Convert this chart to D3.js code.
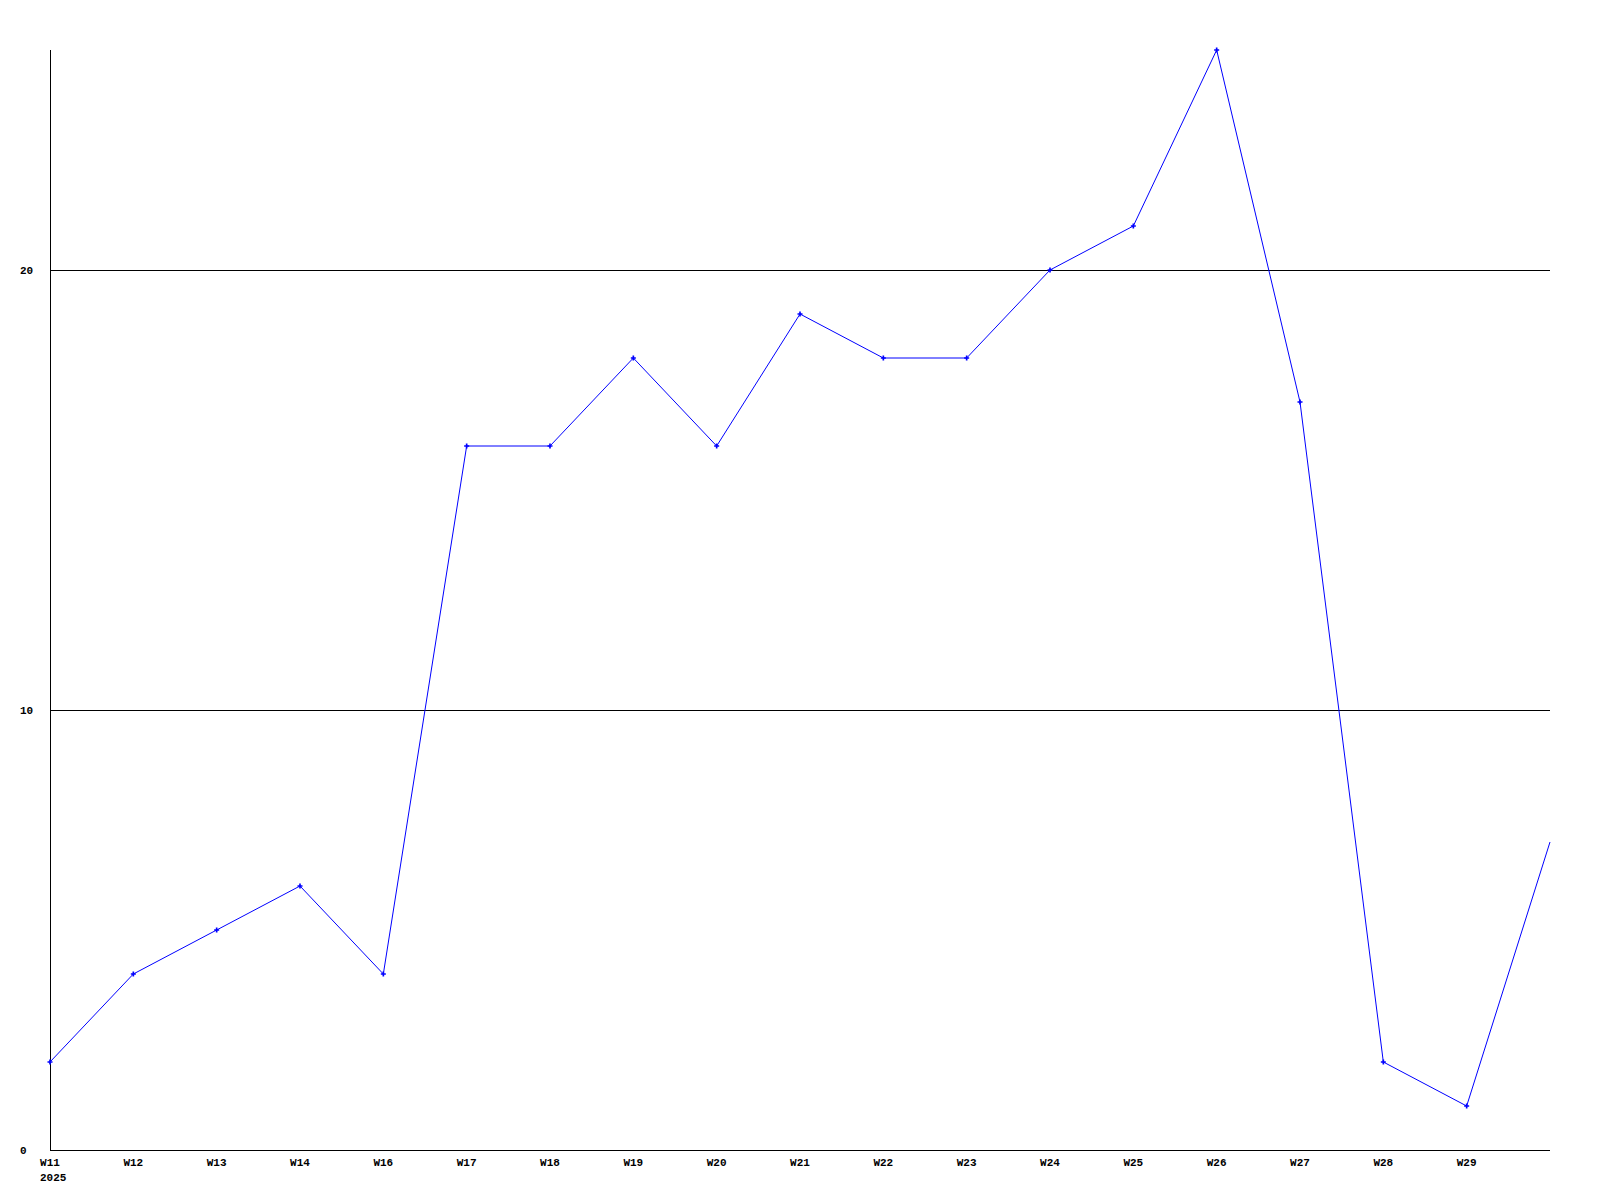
<!DOCTYPE html>
<html><head><meta charset="utf-8">
<script src="https://cdn.jsdelivr.net/npm/d3@7"></script>
<style>
html,body{margin:0;padding:0;background:#fff;}
svg{display:block;}
text{font-family:"Liberation Mono","DejaVu Sans Mono",monospace;font-weight:bold;font-size:11px;fill:#000;}
</style></head>
<body>
<svg id="chart" width="1600" height="1200"></svg>
<script>
const weeks = ["W11","W12","W13","W14","W16","W17","W18","W19","W20","W21","W22","W23","W24","W25","W26","W27","W28","W29",""];
const values = [2,4,5,6,4,16,16,18,16,19,18,18,20,21,25,17,2,1,7];
const yTicks = [0,10,20];
const yearLabel = "2025";

const svg = d3.select("#chart");
const mLeft = 50, mRight = 1550, mTop = 50, mBottom = 1150;

const x = d3.scalePoint().domain(d3.range(values.length)).range([mLeft, mRight]);
const y = d3.scaleLinear().domain([0,25]).range([mBottom, mTop]);

// grid lines
svg.append("g").selectAll("line").data(yTicks.filter(d=>d>0)).join("line")
  .attr("x1", mLeft).attr("x2", mRight)
  .attr("y1", d=>Math.round(y(d))+0.5).attr("y2", d=>Math.round(y(d))+0.5)
  .attr("stroke","#000").attr("stroke-width",1).attr("shape-rendering","crispEdges");

// axes lines
svg.append("line").attr("x1",mLeft+0.5).attr("x2",mLeft+0.5).attr("y1",mTop).attr("y2",mBottom+1)
  .attr("stroke","#000").attr("shape-rendering","crispEdges");
svg.append("line").attr("x1",mLeft).attr("x2",mRight).attr("y1",mBottom+0.5).attr("y2",mBottom+0.5)
  .attr("stroke","#000").attr("shape-rendering","crispEdges");

// y labels
svg.append("g").selectAll("text").data(yTicks).join("text")
  .attr("x", 20).attr("y", d=>y(d)).attr("dy","0.35em")
  .text(d=>d);

// x labels
svg.append("g").selectAll("text").data(weeks.map((w,i)=>({w,i})).filter(d=>d.w)).join("text")
  .attr("x", d=>x(d.i)).attr("y", 1166).attr("text-anchor","middle")
  .text(d=>d.w);
svg.append("text").attr("x", x(0)-10).attr("y", 1181).text(yearLabel);

// line
const line = d3.line().x((d,i)=>x(i)).y(d=>y(d));
svg.append("path").datum(values).attr("d", line)
  .attr("fill","none").attr("stroke","#0000ff").attr("stroke-width",1);

// markers (none on the trailing, unlabelled point)
svg.append("g").selectAll("path").data(values.slice(0, values.length-1)).join("path")
  .attr("transform",(d,i)=>`translate(${x(i)},${y(d)})`)
  .attr("d", d3.symbol(d3.symbolCross, 14))
  .attr("fill","#0000ff");
</script>
</body></html>
